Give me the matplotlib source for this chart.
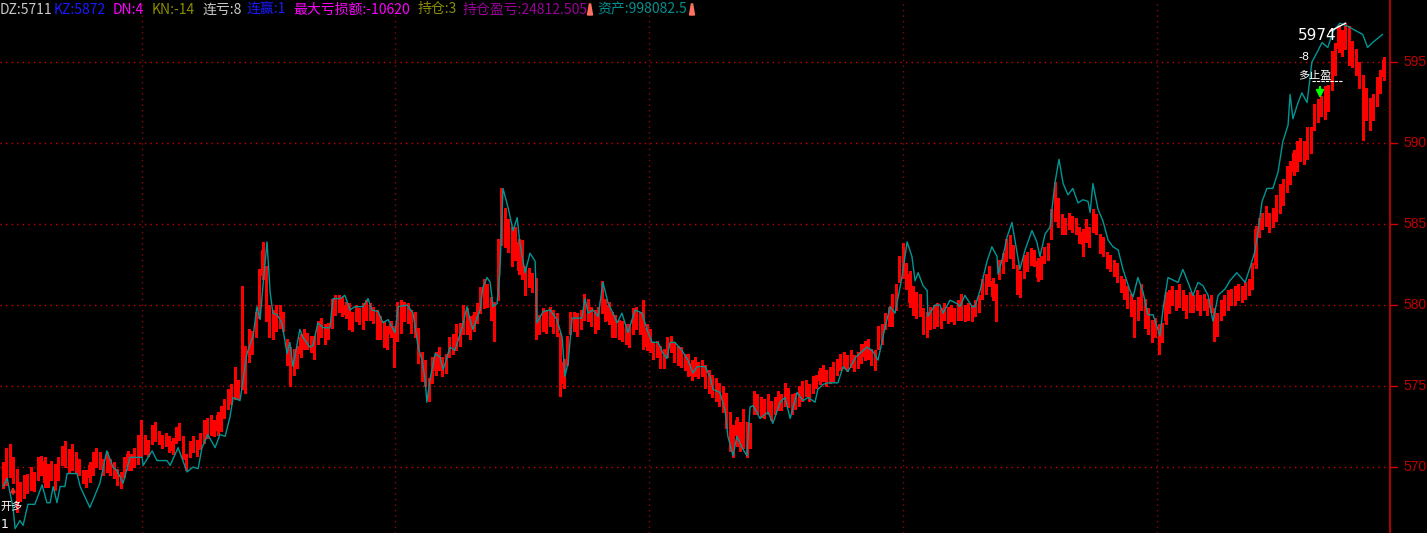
import matplotlib
matplotlib.use('Agg')
import matplotlib.pyplot as plt
from matplotlib.patches import Polygon
from matplotlib.lines import Line2D
import matplotlib.transforms as mtransforms
import numpy as np

# ---------------- data ----------------
opens = [
    5689, 5691, 5696, 5704, 5697, 5689, 5683, 5686, 5688, 5695,
    5694, 5697, 5704, 5700, 5694, 5700, 5694, 5703, 5702, 5709,
    5700, 5707, 5703, 5696, 5696, 5693, 5697, 5702, 5707, 5703,
    5699, 5703, 5701, 5697, 5695, 5696, 5700, 5706, 5702, 5704,
    5709, 5718, 5715, 5716, 5718, 5720, 5718, 5715, 5717, 5716,
    5717, 5719, 5717, 5706, 5708, 5711, 5715, 5713, 5717, 5720,
    5722, 5727, 5722, 5724, 5732, 5738, 5741, 5744, 5752, 5752,
    5751, 5767, 5772, 5782, 5794, 5818, 5820, 5798, 5795, 5786,
    5788, 5794, 5777, 5772, 5759, 5763, 5770, 5775, 5781, 5779,
    5779, 5778, 5782, 5786, 5781, 5788, 5796, 5798, 5803, 5800,
    5799, 5794, 5792, 5796, 5787, 5793, 5799, 5797, 5795, 5791,
    5788, 5785, 5782, 5785, 5780, 5785, 5792, 5799, 5795, 5794,
    5784, 5769, 5764, 5753, 5754, 5759, 5762, 5766, 5760, 5770,
    5772, 5774, 5777, 5784, 5796, 5791, 5786, 5791, 5797, 5800,
    5811, 5803, 5800, 5805, 5839, 5858, 5851, 5846, 5830, 5839,
    5838, 5822, 5813, 5818, 5815, 5792, 5786, 5795, 5789, 5795,
    5793, 5781, 5765, 5765, 5784, 5786, 5793, 5787, 5793, 5802,
    5797, 5795, 5787, 5797, 5802, 5800, 5794, 5792, 5789, 5788,
    5786, 5786, 5784, 5787, 5794, 5801, 5786, 5783, 5775, 5770,
    5773, 5771, 5770, 5773, 5775, 5773, 5772, 5768, 5768, 5764,
    5758, 5763, 5758, 5761, 5758, 5755, 5753, 5750, 5748, 5744,
    5732, 5724, 5719, 5726, 5718, 5726, 5717, 5735, 5743, 5741,
    5740, 5735, 5739, 5735, 5737, 5743, 5740, 5747, 5743, 5738,
    5740, 5743, 5746, 5749, 5748, 5751, 5753, 5755, 5758, 5754,
    5755, 5759, 5762, 5763, 5767, 5764, 5767, 5763, 5766, 5768,
    5769, 5771, 5770, 5775, 5778, 5787, 5789, 5789, 5799, 5816,
    5819, 5824, 5819, 5810, 5806, 5795, 5796, 5794, 5787, 5788,
    5789, 5796, 5793, 5797, 5792, 5796, 5793, 5793, 5798, 5793,
    5798, 5795, 5798, 5806, 5809, 5814, 5815, 5811, 5818, 5822,
    5829, 5831, 5835, 5823, 5819, 5819, 5823, 5827, 5832, 5827,
    5818, 5828, 5830, 5843, 5854, 5864, 5854, 5852, 5849, 5853,
    5852, 5846, 5845, 5841, 5846, 5847, 5854, 5842, 5840, 5831,
    5829, 5826, 5824, 5816, 5814, 5810, 5805, 5801, 5793, 5799,
    5802, 5796, 5789, 5782, 5786, 5779, 5790, 5797, 5802, 5807,
    5801, 5807, 5804, 5798, 5804, 5799, 5804, 5799, 5802, 5798,
    5796, 5793, 5793, 5796, 5799, 5802, 5802, 5805, 5810, 5806,
    5808, 5812, 5825, 5844, 5849, 5851, 5855, 5850, 5854, 5859,
    5864, 5872, 5877, 5882, 5885, 5891, 5899, 5892, 5896, 5910,
    5915, 5919, 5917, 5922, 5935, 5944, 5958, 5968, 5960, 5970,
    5961, 5956, 5948, 5940, 5932, 5926, 5916, 5925, 5933, 5941,
]
closes = [
    5701, 5709, 5712, 5692, 5675, 5681, 5693, 5694, 5698, 5687,
    5704, 5705, 5690, 5690, 5702, 5688, 5704, 5711, 5714, 5699,
    5712, 5699, 5697, 5692, 5690, 5701, 5707, 5710, 5701, 5697,
    5707, 5697, 5695, 5691, 5689, 5704, 5708, 5700, 5710, 5718,
    5727, 5710, 5709, 5724, 5726, 5716, 5714, 5719, 5711, 5710,
    5723, 5725, 5707, 5700, 5714, 5717, 5709, 5719, 5727, 5728,
    5730, 5721, 5732, 5736, 5740, 5746, 5749, 5760, 5744, 5758,
    5773, 5783, 5782, 5794, 5818, 5834, 5792, 5782, 5781, 5798,
    5798, 5786, 5765, 5754, 5771, 5773, 5780, 5783, 5775, 5773,
    5769, 5788, 5790, 5778, 5787, 5802, 5804, 5804, 5795, 5794,
    5787, 5786, 5798, 5790, 5799, 5801, 5793, 5791, 5781, 5781,
    5776, 5775, 5788, 5779, 5800, 5801, 5800, 5791, 5785, 5782,
    5766, 5755, 5752, 5743, 5766, 5769, 5772, 5758, 5768, 5778,
    5780, 5786, 5787, 5798, 5784, 5781, 5794, 5799, 5809, 5814,
    5801, 5793, 5780, 5839, 5871, 5838, 5835, 5826, 5846, 5821,
    5818, 5808, 5821, 5810, 5781, 5784, 5796, 5785, 5797, 5785,
    5783, 5759, 5751, 5779, 5794, 5794, 5783, 5795, 5805, 5792,
    5789, 5785, 5797, 5813, 5792, 5790, 5782, 5782, 5781, 5780,
    5778, 5776, 5796, 5797, 5784, 5775, 5774, 5773, 5769, 5776,
    5763, 5763, 5778, 5779, 5767, 5765, 5764, 5762, 5758, 5756,
    5766, 5757, 5764, 5751, 5748, 5745, 5743, 5740, 5736, 5726,
    5718, 5712, 5729, 5716, 5734, 5712, 5725, 5745, 5735, 5733,
    5732, 5743, 5731, 5741, 5745, 5737, 5750, 5739, 5735, 5744,
    5748, 5751, 5752, 5743, 5754, 5755, 5759, 5761, 5752, 5760,
    5763, 5765, 5768, 5769, 5761, 5770, 5761, 5769, 5774, 5776,
    5777, 5765, 5762, 5785, 5786, 5793, 5797, 5805, 5811, 5828,
    5831, 5812, 5801, 5796, 5794, 5805, 5784, 5782, 5797, 5798,
    5799, 5788, 5799, 5791, 5798, 5790, 5801, 5805, 5792, 5799,
    5792, 5801, 5804, 5814, 5817, 5822, 5805, 5801, 5826, 5830,
    5839, 5841, 5825, 5809, 5807, 5829, 5831, 5833, 5826, 5817,
    5828, 5834, 5836, 5857, 5870, 5850, 5846, 5846, 5855, 5847,
    5846, 5840, 5837, 5851, 5838, 5857, 5846, 5834, 5832, 5825,
    5823, 5820, 5816, 5810, 5806, 5800, 5795, 5785, 5803, 5811,
    5788, 5784, 5779, 5790, 5774, 5787, 5806, 5807, 5810, 5799,
    5811, 5799, 5794, 5806, 5798, 5807, 5796, 5805, 5796, 5804,
    5782, 5783, 5801, 5804, 5807, 5808, 5810, 5811, 5804, 5812,
    5814, 5824, 5847, 5852, 5855, 5859, 5847, 5858, 5866, 5873,
    5876, 5884, 5887, 5894, 5899, 5901, 5889, 5908, 5908, 5922,
    5925, 5927, 5933, 5934, 5955, 5960, 5971, 5956, 5972, 5950,
    5949, 5944, 5936, 5924, 5918, 5910, 5928, 5939, 5943, 5951,
]
highs = [
    5703, 5712, 5714, 5706, 5699, 5691, 5695, 5696, 5700, 5697,
    5706, 5707, 5706, 5702, 5704, 5702, 5706, 5713, 5716, 5711,
    5714, 5709, 5705, 5698, 5698, 5703, 5709, 5712, 5709, 5705,
    5709, 5705, 5703, 5699, 5697, 5706, 5710, 5708, 5712, 5720,
    5729, 5720, 5717, 5726, 5728, 5722, 5720, 5721, 5719, 5718,
    5725, 5727, 5719, 5708, 5716, 5719, 5717, 5721, 5729, 5730,
    5732, 5729, 5734, 5738, 5742, 5748, 5751, 5762, 5754, 5812,
    5775, 5785, 5784, 5796, 5822, 5839, 5824, 5800, 5797, 5800,
    5800, 5796, 5779, 5774, 5773, 5775, 5782, 5785, 5783, 5781,
    5781, 5790, 5792, 5788, 5789, 5804, 5806, 5806, 5805, 5802,
    5801, 5796, 5800, 5798, 5801, 5803, 5801, 5799, 5797, 5793,
    5790, 5787, 5790, 5787, 5802, 5803, 5802, 5801, 5797, 5796,
    5786, 5771, 5766, 5755, 5768, 5771, 5774, 5768, 5770, 5780,
    5782, 5788, 5789, 5800, 5798, 5793, 5796, 5801, 5811, 5816,
    5813, 5805, 5802, 5841, 5872, 5860, 5853, 5848, 5848, 5841,
    5840, 5824, 5823, 5820, 5817, 5794, 5798, 5797, 5799, 5797,
    5795, 5783, 5767, 5781, 5796, 5796, 5795, 5797, 5807, 5804,
    5799, 5797, 5799, 5815, 5804, 5802, 5796, 5794, 5791, 5790,
    5788, 5788, 5798, 5799, 5796, 5803, 5788, 5785, 5777, 5778,
    5775, 5773, 5780, 5781, 5777, 5775, 5774, 5770, 5770, 5766,
    5768, 5765, 5766, 5763, 5760, 5757, 5755, 5752, 5750, 5746,
    5734, 5726, 5731, 5728, 5736, 5728, 5727, 5747, 5745, 5743,
    5742, 5745, 5741, 5743, 5747, 5745, 5752, 5749, 5745, 5746,
    5750, 5753, 5754, 5751, 5756, 5757, 5761, 5763, 5760, 5762,
    5765, 5767, 5770, 5771, 5769, 5772, 5769, 5771, 5776, 5778,
    5779, 5773, 5772, 5787, 5788, 5795, 5799, 5807, 5813, 5830,
    5838, 5826, 5821, 5812, 5808, 5807, 5798, 5796, 5799, 5800,
    5801, 5798, 5801, 5799, 5800, 5798, 5803, 5807, 5800, 5801,
    5800, 5803, 5806, 5816, 5819, 5824, 5817, 5813, 5828, 5832,
    5841, 5843, 5837, 5825, 5821, 5831, 5833, 5835, 5834, 5829,
    5830, 5836, 5838, 5859, 5876, 5866, 5856, 5854, 5857, 5855,
    5854, 5848, 5847, 5853, 5848, 5859, 5856, 5844, 5842, 5833,
    5831, 5828, 5826, 5818, 5816, 5812, 5807, 5803, 5805, 5813,
    5804, 5798, 5791, 5792, 5788, 5789, 5808, 5809, 5812, 5809,
    5813, 5809, 5806, 5808, 5806, 5809, 5806, 5807, 5804, 5806,
    5798, 5795, 5803, 5806, 5809, 5810, 5812, 5813, 5812, 5814,
    5816, 5826, 5849, 5854, 5857, 5861, 5857, 5860, 5868, 5875,
    5878, 5886, 5889, 5896, 5901, 5903, 5901, 5910, 5910, 5924,
    5927, 5929, 5935, 5936, 5957, 5962, 5973, 5970, 5974, 5972,
    5963, 5958, 5950, 5942, 5934, 5928, 5930, 5941, 5945, 5953,
]
lows = [
    5687, 5689, 5694, 5690, 5672, 5679, 5681, 5684, 5686, 5685,
    5692, 5695, 5688, 5688, 5692, 5686, 5692, 5701, 5700, 5697,
    5698, 5697, 5695, 5690, 5688, 5691, 5695, 5700, 5699, 5695,
    5697, 5695, 5693, 5689, 5687, 5694, 5698, 5698, 5700, 5702,
    5707, 5708, 5707, 5714, 5716, 5714, 5712, 5713, 5709, 5708,
    5715, 5717, 5705, 5698, 5706, 5709, 5707, 5711, 5715, 5718,
    5720, 5719, 5720, 5722, 5730, 5736, 5739, 5742, 5742, 5748,
    5746, 5765, 5770, 5780, 5792, 5816, 5790, 5780, 5779, 5784,
    5786, 5784, 5763, 5750, 5757, 5761, 5768, 5773, 5773, 5771,
    5767, 5776, 5780, 5776, 5779, 5786, 5794, 5796, 5793, 5792,
    5785, 5784, 5790, 5788, 5785, 5791, 5791, 5789, 5779, 5779,
    5774, 5773, 5780, 5762, 5778, 5783, 5790, 5789, 5783, 5780,
    5764, 5753, 5750, 5741, 5752, 5757, 5760, 5756, 5758, 5768,
    5770, 5772, 5775, 5782, 5782, 5779, 5784, 5789, 5795, 5798,
    5799, 5791, 5778, 5803, 5837, 5836, 5833, 5824, 5828, 5819,
    5816, 5806, 5811, 5808, 5779, 5782, 5784, 5783, 5787, 5783,
    5781, 5744, 5749, 5763, 5782, 5784, 5781, 5785, 5791, 5790,
    5787, 5783, 5785, 5795, 5790, 5788, 5780, 5780, 5779, 5778,
    5776, 5774, 5782, 5785, 5782, 5773, 5772, 5771, 5767, 5768,
    5761, 5761, 5768, 5771, 5765, 5763, 5762, 5760, 5756, 5754,
    5756, 5755, 5756, 5749, 5746, 5743, 5741, 5738, 5734, 5724,
    5710, 5706, 5713, 5710, 5712, 5706, 5712, 5733, 5733, 5731,
    5730, 5733, 5729, 5733, 5735, 5735, 5738, 5737, 5733, 5736,
    5738, 5741, 5744, 5741, 5746, 5749, 5751, 5753, 5750, 5752,
    5753, 5757, 5760, 5761, 5759, 5762, 5759, 5761, 5764, 5766,
    5767, 5763, 5760, 5773, 5776, 5785, 5787, 5787, 5797, 5814,
    5817, 5810, 5799, 5794, 5792, 5793, 5782, 5780, 5785, 5786,
    5787, 5786, 5791, 5789, 5790, 5788, 5791, 5791, 5790, 5791,
    5790, 5793, 5796, 5804, 5807, 5812, 5803, 5790, 5816, 5820,
    5827, 5829, 5823, 5807, 5805, 5817, 5821, 5825, 5824, 5815,
    5816, 5826, 5828, 5841, 5852, 5848, 5844, 5844, 5847, 5845,
    5844, 5838, 5830, 5839, 5836, 5845, 5844, 5832, 5830, 5823,
    5821, 5818, 5814, 5808, 5804, 5798, 5793, 5780, 5791, 5797,
    5786, 5782, 5777, 5780, 5770, 5777, 5788, 5795, 5800, 5797,
    5799, 5797, 5792, 5796, 5796, 5797, 5794, 5797, 5794, 5796,
    5778, 5781, 5791, 5794, 5797, 5800, 5800, 5803, 5802, 5804,
    5806, 5810, 5823, 5842, 5847, 5849, 5845, 5848, 5852, 5857,
    5862, 5870, 5875, 5880, 5883, 5889, 5887, 5890, 5894, 5908,
    5913, 5917, 5915, 5920, 5933, 5942, 5956, 5954, 5958, 5948,
    5947, 5942, 5934, 5902, 5914, 5908, 5914, 5923, 5931, 5939,
]

# cyan reference line: vertices (bar index, price)
cyan_idx = [
    0, 1.2, 2.9, 3.5, 4.9, 5.8, 7.2, 9.2, 11.3, 12.7, 13.6, 14.5, 15.6, 16.5, 17.9,
    18.5, 21.4, 22.3, 25.1, 28, 30, 31.8, 32.9, 34.7, 36.7, 40.2, 40.5, 43.1, 44.5,
    47.4, 48.3, 50.6, 53.2, 54.9, 56.4, 57.5, 59.2, 61.3, 62.7, 64.2, 65.6, 66.5,
    68.5, 70.5, 72.3, 73.4, 74.3, 75.1, 76.3, 77.2, 78, 79.2, 80.6, 82.1, 82.9, 83.8,
    85.8, 86.7, 88.7, 89.6, 91, 92.5, 94.5, 95.4, 97.4, 98.8, 100.3, 101.7, 104,
    105.5, 106.6, 108.4, 109.8, 111.3, 113.3, 114.2, 116.8, 118.5, 120, 121.1, 122,
    122.5, 123.4, 124.9, 126.3, 127.2, 129.2, 130.6, 132.7, 134.1, 135, 135.8, 137.9,
    138.7, 139.9, 140.8, 141.6, 142.8, 143.6, 144.5, 146, 147.4, 148.6, 149.4, 150.9,
    152.3, 153.8, 154.3, 156.1, 158.1, 160.1, 161.6, 162.4, 163.3, 164.5, 167.3,
    168.2, 169.1, 170.5, 172, 173.4, 174.9, 176.3, 177.5, 178.9, 180.6, 182.7, 184.7,
    186.1, 187.6, 189.3, 190.8, 191.9, 192.8, 194.2, 196.2, 198, 199.4, 200.6, 202.9,
    204.3, 205.2, 207.2, 208.7, 209.5, 211, 212.1, 213.6, 215, 215.9, 216.8, 218.8,
    221.1, 222.5, 224.6, 226, 227.5, 229.5, 231.2, 232.7, 234.7, 235.5, 237, 238.4,
    241.3, 242.8, 244.2, 246.5, 249.7, 251.2, 252.9, 254.9, 256.4, 257.8, 259.8,
    261.3, 262.7, 263.6, 264.5, 265.9, 267.1, 267.3, 269.4, 270.8, 271.7, 273.7,
    275.7, 276.6, 278, 280.1, 280.9, 282.4, 284.4, 285.8, 287.3, 287.6, 289, 290.2,
    291.6, 293.1, 293.9, 295.4, 297.4, 298.8, 299.7, 301.2, 302.6, 304, 305.2, 306.4,
    307.8, 309.2, 310.7, 312.1, 313.6, 314.2, 315, 316.5, 317.9, 319.4, 320.8, 322.3,
    323.7, 325.7, 326.6, 328, 329.5, 330.9, 332.4, 334.4, 335.3, 336.7, 339.6, 341,
    342.5, 343.9, 345.4, 346.8, 348.3, 349.7, 351.2, 353.2, 354.6, 356.6, 359, 360.4,
    361.8, 362.7, 363.9, 365.3, 367, 368.5, 369.9, 371.4, 372, 372.8, 374.3, 375.4,
    376.9, 378.3, 379.8, 381.2, 382.9, 384.4, 386.4, 388.7, 391.3, 393, 394.4, 395.8,
    398.7,
]
cyan_val = [
    5688, 5693, 5675, 5662, 5667, 5664, 5677, 5677, 5689, 5678, 5678, 5688, 5678, 5688, 5688,
    5696, 5696, 5688, 5675, 5690, 5710, 5700, 5698, 5690, 5706, 5706, 5701, 5710, 5704,
    5704, 5701, 5712, 5697, 5700, 5699, 5712, 5720, 5712, 5720, 5719, 5731, 5743,
    5741, 5770, 5781, 5799, 5791, 5811, 5839, 5808, 5795, 5794, 5789, 5770, 5777, 5762,
    5785, 5780, 5774, 5775, 5789, 5786, 5786, 5804, 5804, 5806, 5797, 5799, 5799,
    5804, 5797, 5796, 5789, 5791, 5783, 5799, 5800, 5795, 5774, 5766, 5754,
    5740, 5754, 5770, 5768, 5760, 5774, 5772, 5786, 5799, 5791, 5785, 5797,
    5811, 5817, 5814, 5799, 5801, 5820, 5872, 5860, 5846, 5854, 5838, 5820,
    5832, 5827, 5789, 5796, 5797, 5791, 5780, 5756, 5764, 5792, 5792,
    5804, 5795, 5797, 5793, 5814, 5801, 5795, 5789, 5795, 5783, 5797, 5795,
    5785, 5777, 5777, 5770, 5767, 5777, 5777, 5772, 5766, 5758, 5762, 5762,
    5756, 5748, 5746, 5735, 5719, 5707, 5719, 5712, 5707, 5737, 5738, 5730,
    5734, 5727, 5740, 5743, 5730, 5746, 5741, 5743, 5740, 5748, 5751, 5752,
    5752, 5762, 5759, 5768, 5774, 5772, 5766, 5786, 5799, 5795, 5817,
    5839, 5830, 5815, 5820, 5812, 5809, 5793, 5800, 5800, 5795, 5803,
    5801, 5799, 5806, 5799, 5799, 5809, 5827, 5836, 5830, 5819, 5830, 5842,
    5851, 5832, 5822, 5834, 5846, 5839, 5830, 5844, 5848, 5875, 5890, 5875,
    5868, 5872, 5863, 5865, 5864, 5857, 5875, 5859, 5852, 5840, 5836, 5834,
    5822, 5809, 5805, 5817, 5808, 5794, 5794, 5781, 5798, 5817, 5814, 5822,
    5814, 5806, 5814, 5812, 5806, 5790, 5806, 5810, 5815, 5820, 5814, 5823,
    5833, 5845, 5864, 5872, 5872, 5882, 5901, 5911, 5930, 5915, 5925, 5931,
    5925, 5950, 5956, 5962, 5959, 5969, 5974, 5972, 5969, 5967, 5959, 5962,
    5967,
]

price_levels = [5700, 5750, 5800, 5850, 5900, 5950]
# the price-scale labels as they are visible at the window's right edge
price_labels = ["570", "575", "580", "585", "590", "595"]
session_breaks = [40.2, 113.3, 186.7, 260.1, 333.5]

header = [
    ("DZ:5711", "#c8c8c8"),
    ("KZ:5872", "#1a1aff"),
    ("DN:4", "#ff00ff"),
    ("KN:-14", "#8c8c00"),
    ("连亏:8", "#c8c8c8"),
    ("连赢:1", "#1a1aff"),
    ("最大亏损额:-10620", "#ff00ff"),
    ("持仓:3", "#8c8c00"),
    ("持仓盈亏:24812.505", "#9a009a"),
    ("资产:998082.5", "#009090"),
]
header_x = [0, 54, 113, 152, 203, 247, 293, 418, 463, 597]

# ---------------- drawing ----------------
plt.rcParams['font.family'] = ['Noto Sans CJK SC', 'DejaVu Sans']

W, H = 1427, 533
fig = plt.figure(figsize=(W / 100, H / 100), dpi=100, facecolor='black')
AX_RIGHT = 1390
ax = fig.add_axes([0, 0, AX_RIGHT / W, 1])
ax.set_facecolor('black')
ax.axis('off')

o = np.array(opens, float)
c = np.array(closes, float)
hi = np.array(highs, float)
lo = np.array(lows, float)
xi = np.arange(len(o))

ax.set_xlim(-0.87, 400.87)
ax.set_ylim(5659.3, 5988.3)

# grid
for v in price_levels:
    ax.axhline(v, color='#c80000', lw=1, ls=(0, (1, 3)), zorder=1)
for b in session_breaks:
    ax.axvline(b, color='#8a0a0a', lw=1, ls=(0, (1, 3)), zorder=1)

# candles
ax.vlines(xi, lo, hi, color='#ff0000', lw=1, zorder=3, antialiased=False)
bot = np.minimum(o, c)
hgt = np.maximum(np.abs(c - o), 1.0)
ax.bar(xi, hgt, bottom=bot, width=0.62, color='#ff0000', linewidth=0,
       zorder=3, antialiased=False)

# cyan line
ax.plot(cyan_idx, cyan_val, color='#009696', lw=1.0, zorder=4)

# right price axis
fig.add_artist(Line2D([AX_RIGHT / W, AX_RIGHT / W], [0, 1], color='#d00000', lw=1.2,
                      transform=fig.transFigure))
blend = mtransforms.blended_transform_factory(fig.transFigure, ax.transData)
for v, lab in zip(price_levels, price_labels):
    fig.add_artist(Line2D([AX_RIGHT / W, 1397 / W], [v, v], color='#d00000', lw=1,
                          transform=blend))
    fig.text(1403 / W, v, lab, transform=blend, color='#c00000', fontsize=10,
             ha='left', va='center', family='Liberation Sans')

# header
yh = 1 - 9.5 / H
for (txt, col), px in zip(header, header_x):
    fig.text(px / W, yh, txt, color=col, fontsize=10, ha='left', va='center')
for px in (590, 692):
    fig.add_artist(Polygon([[(px - 2.5) / W, 1 - 15 / H], [(px + 2.5) / W, 1 - 15 / H],
                            [(px + 0.6) / W, 1 - 4 / H], [(px - 0.6) / W, 1 - 4 / H]],
                           closed=True, color='#ff7262', transform=fig.transFigure))

# annotations at the top right
peak_i = int(np.argmax(hi))
peak_v = int(hi[peak_i])
ax.plot([peak_i - 4.5, peak_i], [peak_v - 5, peak_v], color='white', lw=1, zorder=6)
fig.text(1298 / W, 1 - 35 / H, f"{peak_v}", color='white', fontsize=11,
         ha='left', va='center', family='DejaVu Sans')
fig.text(1298 / W, 1 - 57 / H, "-8", color='white', fontsize=8, ha='left', va='center',
         family='DejaVu Sans')
fig.text(1298 / W, 1 - 76 / H, "多止盈", color='white', fontsize=8, ha='left', va='center')
fig.add_artist(Line2D([1312 / W, 1342 / W], [1 - 81 / H, 1 - 81 / H], color='white', lw=0.8,
                      ls=(0, (3, 1)), transform=fig.transFigure))
ax.annotate('', xy=(1320, H - 101), xytext=(1320, H - 84), xycoords='figure pixels',
            textcoords='figure pixels',
            arrowprops=dict(arrowstyle='-|>', color='#00ff00', lw=1.5, mutation_scale=11))

# bottom-left signal marks
fig.text(0, 1 - 507 / H, "开多", color='white', fontsize=8, ha='left', va='center')
fig.text(1 / W, 1 - 524 / H, "1", color='white', fontsize=9, ha='left', va='center',
         family='DejaVu Sans')
ax.annotate('', xy=(13, H - 484), xytext=(13, H - 497), xycoords='figure pixels',
            textcoords='figure pixels',
            arrowprops=dict(arrowstyle='-|>', color='#ff2020', lw=1.2, mutation_scale=7))

fig.savefig('out.png', dpi=100, facecolor='black')
